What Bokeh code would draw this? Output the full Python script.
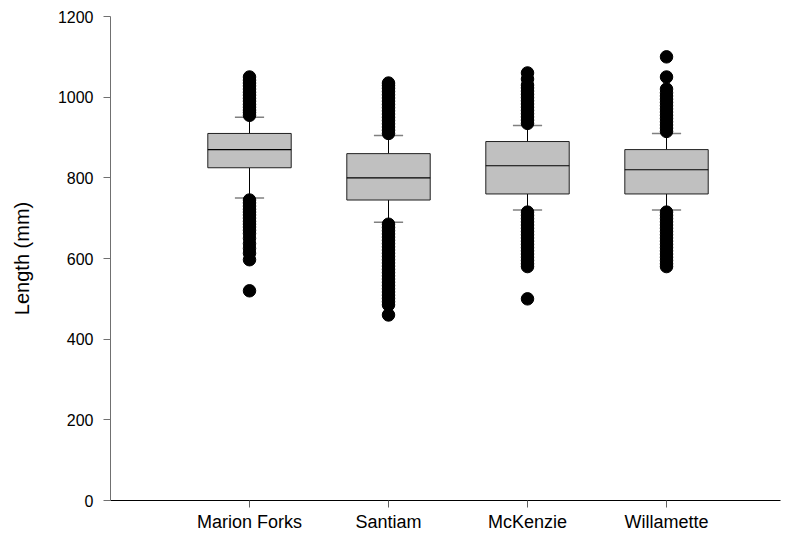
from bokeh.plotting import figure
from bokeh.models import Range1d, FixedTicker, ColumnDataSource
from bokeh.embed import file_html
from bokeh.resources import INLINE

groups = ["Marion Forks", "Santiam", "McKenzie", "Willamette"]
q1 = [825, 745, 760, 760]
median = [870, 800, 830, 820]
q3 = [910, 860, 890, 870]
whisker_low = [750, 690, 720, 720]
whisker_high = [950, 905, 930, 910]

outliers_marion = [955, 962, 968, 975, 982, 990, 997, 1005, 1012, 1020, 1028, 1035, 1042, 1050,
                   745, 738, 730, 722, 715, 708, 700, 692, 685, 678, 670, 662, 650, 637, 625, 613, 597, 520]
outliers_santiam = [910, 918, 926, 934, 942, 950, 958, 966, 974, 982, 990, 998, 1006, 1014, 1022, 1029, 1035,
                    685, 677, 669, 661, 653, 645, 637, 629, 621, 613, 605, 597, 589, 581, 573, 565, 557,
                    549, 541, 533, 525, 517, 509, 501, 493, 485, 460]
outliers_mckenzie = [935, 943, 951, 959, 967, 975, 983, 991, 999, 1007, 1015, 1023, 1030, 1045, 1060,
                     715, 707, 699, 691, 683, 675, 667, 659, 651, 643, 635, 627, 619, 611, 603, 595, 587, 580, 500]
outliers_willamette = [915, 923, 931, 939, 947, 955, 963, 971, 979, 987, 995, 1003, 1011, 1020, 1050, 1100,
                       715, 707, 699, 691, 683, 675, 667, 659, 651, 643, 635, 627, 619, 611, 603, 595, 587, 580]
outlier_lists = [outliers_marion, outliers_santiam, outliers_mckenzie, outliers_willamette]

pos = [1, 2, 3, 4]
box_w = 0.6
cap_w = 0.21

FONT = "Liberation Sans"

p = figure(width=795, height=538, output_backend="svg", toolbar_location=None,
           x_range=Range1d(0, 4.82), y_range=Range1d(0, 1200),
           min_border_left=110, min_border_top=16, min_border_right=15, min_border_bottom=38)
p.outline_line_color = None
p.xgrid.visible = False
p.ygrid.visible = False

src = ColumnDataSource(dict(
    x=pos,
    left=[x - box_w / 2 for x in pos], right=[x + box_w / 2 for x in pos],
    cl=[x - cap_w / 2 for x in pos], cr=[x + cap_w / 2 for x in pos],
    q1=q1, q3=q3, med=median, lo=whisker_low, hi=whisker_high))

# whiskers
p.segment(x0="x", x1="x", y0="q3", y1="hi", source=src, line_color="black", line_width=1)
p.segment(x0="x", x1="x", y0="lo", y1="q1", source=src, line_color="black", line_width=1)
# caps
p.segment(x0="cl", x1="cr", y0="hi", y1="hi", source=src, line_color="#808080", line_width=1.5)
p.segment(x0="cl", x1="cr", y0="lo", y1="lo", source=src, line_color="#808080", line_width=1.5)

# outliers
ox, oy = [], []
for x, vals in zip(pos, outlier_lists):
    for v in vals:
        ox.append(x)
        oy.append(v)
p.scatter(ox, oy, size=12.5, fill_color="black", line_color="black")

# boxes
p.quad(left="left", right="right", bottom="q1", top="q3", source=src,
       fill_color="#c0c0c0", line_color="#202020", line_width=1)
p.segment(x0="left", x1="right", y0="med", y1="med", source=src, line_color="black", line_width=1.2)

# axes
p.xaxis.ticker = FixedTicker(ticks=pos)
p.xaxis.major_label_overrides = {x: g for x, g in zip(pos, groups)}
p.xaxis.axis_line_color = "black"
p.xaxis.major_tick_line_color = "#606060"
p.xaxis.major_tick_out = 7
p.xaxis.major_tick_in = 0
p.xaxis.minor_tick_line_color = None
p.xaxis.major_label_text_font = FONT
p.xaxis.major_label_text_font_size = "18px"
p.xaxis.major_label_text_color = "black"
p.xaxis.major_label_standoff = 4

p.yaxis.ticker = FixedTicker(ticks=[0, 200, 400, 600, 800, 1000, 1200])
p.yaxis.axis_line_color = "#707070"
p.yaxis.major_tick_line_color = "#707070"
p.yaxis.major_tick_out = 7
p.yaxis.major_tick_in = 0
p.yaxis.minor_tick_line_color = None
p.yaxis.major_label_text_font = FONT
p.yaxis.major_label_text_font_size = "16px"
p.yaxis.major_label_text_color = "black"
p.yaxis.major_label_standoff = 10
p.yaxis.axis_label = "Length (mm)"
p.yaxis.axis_label_text_font = FONT
p.yaxis.axis_label_text_font_size = "20px"
p.yaxis.axis_label_text_font_style = "normal"
p.yaxis.axis_label_text_color = "black"
p.yaxis.axis_label_standoff = 22

open("out.html", "w").write(file_html(p, INLINE))
